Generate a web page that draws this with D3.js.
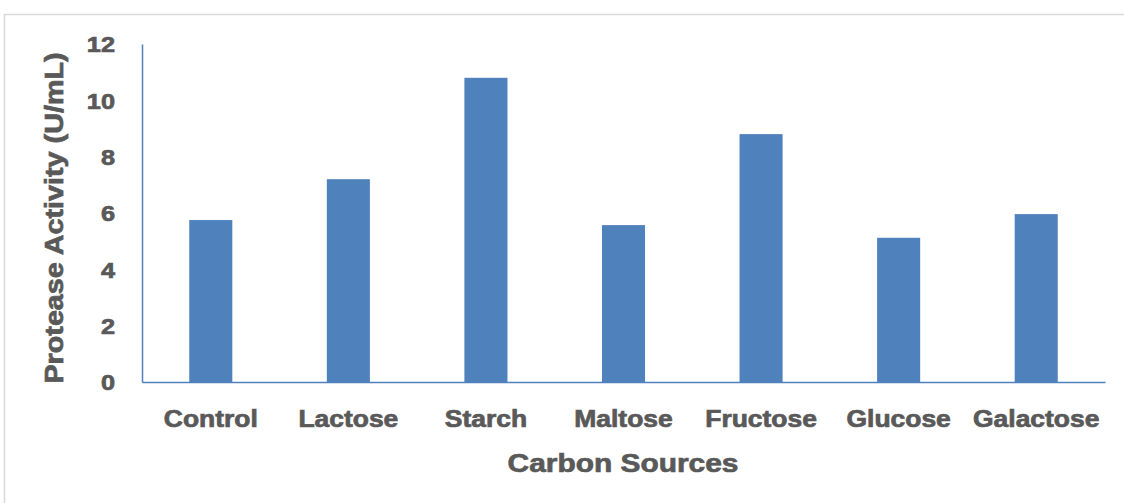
<!DOCTYPE html>
<html>
<head>
<meta charset="utf-8">
<script src="https://cdn.jsdelivr.net/npm/d3@7"></script>
<style>
  body { margin: 0; background: #fff; }
  text { font-family: "Liberation Sans", Arial, sans-serif; font-weight: bold; fill: #595959; stroke: #595959; stroke-width: 0.7px; }
</style>
</head>
<body>
<script>
'use strict';

const width = 1124, height = 503;

const categories = ['Control', 'Lactose', 'Starch', 'Maltose', 'Fructose', 'Glucose', 'Galactose'];
const activity = [5.75, 7.2, 10.8, 5.57, 8.8, 5.12, 5.96];
const yTicks = [0, 2, 4, 6, 8, 10, 12];

const stretch = 1.15; // glyphs in the picture are a bit wider than Arial
const barColor = '#4f81bd';

let svg = d3.select('body').append('svg')
  .attr('width', width)
  .attr('height', height);

// chart area border
svg.append('rect')
  .attr('x', 4.5).attr('y', 14.5)
  .attr('width', 1300).attr('height', 600)
  .attr('fill', 'none')
  .attr('stroke', '#d9d9d9')
  .attr('stroke-width', 1.5);

let x = d3.scaleBand()
  .domain(categories)
  .range([142, 1105])
  .padding(0);

let y = d3.scaleLinear()
  .domain([0, 12])
  .range([382, 44]);

const barW = x.bandwidth() * 0.313;

svg.append('g')
  .selectAll('rect')
  .data(categories)
  .join('rect')
  .attr('x', (d, i) => x(d) + (x.bandwidth() - barW) / 2)
  .attr('y', (d, i) => y(activity[i]))
  .attr('width', barW)
  .attr('height', (d, i) => y(0) - y(activity[i]))
  .attr('fill', barColor);

// y axis
let yAxis = svg.append('g')
  .attr('transform', 'translate(142,0)')
  .call(d3.axisLeft(y).tickValues(yTicks).tickSize(0).tickFormat(d3.format('d')));
yAxis.select('.domain').attr('stroke', barColor).attr('stroke-width', 1.5);
yAxis.selectAll('text')
  .attr('x', null)
  .attr('dy', '0.36em')
  .attr('transform', `translate(-27,0) scale(${stretch},1)`)
  .style('font-size', '22px')
  .style('font-family', '"Liberation Sans", Arial, sans-serif')
  .style('fill', '#595959');

// x axis
let xAxis = svg.append('g')
  .attr('transform', 'translate(0,382)')
  .call(d3.axisBottom(x).tickSize(0).tickSizeOuter(0));
xAxis.select('.domain').attr('stroke', barColor).attr('stroke-width', 1.5);
xAxis.selectAll('text')
  .attr('y', null)
  .attr('dy', null)
  .attr('transform', `translate(0,45) scale(${stretch},1)`)
  .style('font-size', '23px')
  .style('font-family', '"Liberation Sans", Arial, sans-serif')
  .style('fill', '#595959');

// axis titles
svg.append('text')
  .attr('text-anchor', 'middle')
  .attr('transform', `translate(623,472) scale(${stretch},1)`)
  .style('font-size', '26px')
  .text('Carbon Sources');

svg.append('text')
  .attr('text-anchor', 'middle')
  .attr('transform', `translate(63,218) rotate(-90) scale(${stretch},1)`)
  .style('font-size', '25px')
  .text('Protease Activity (U/mL)');
</script>
</body>
</html>
